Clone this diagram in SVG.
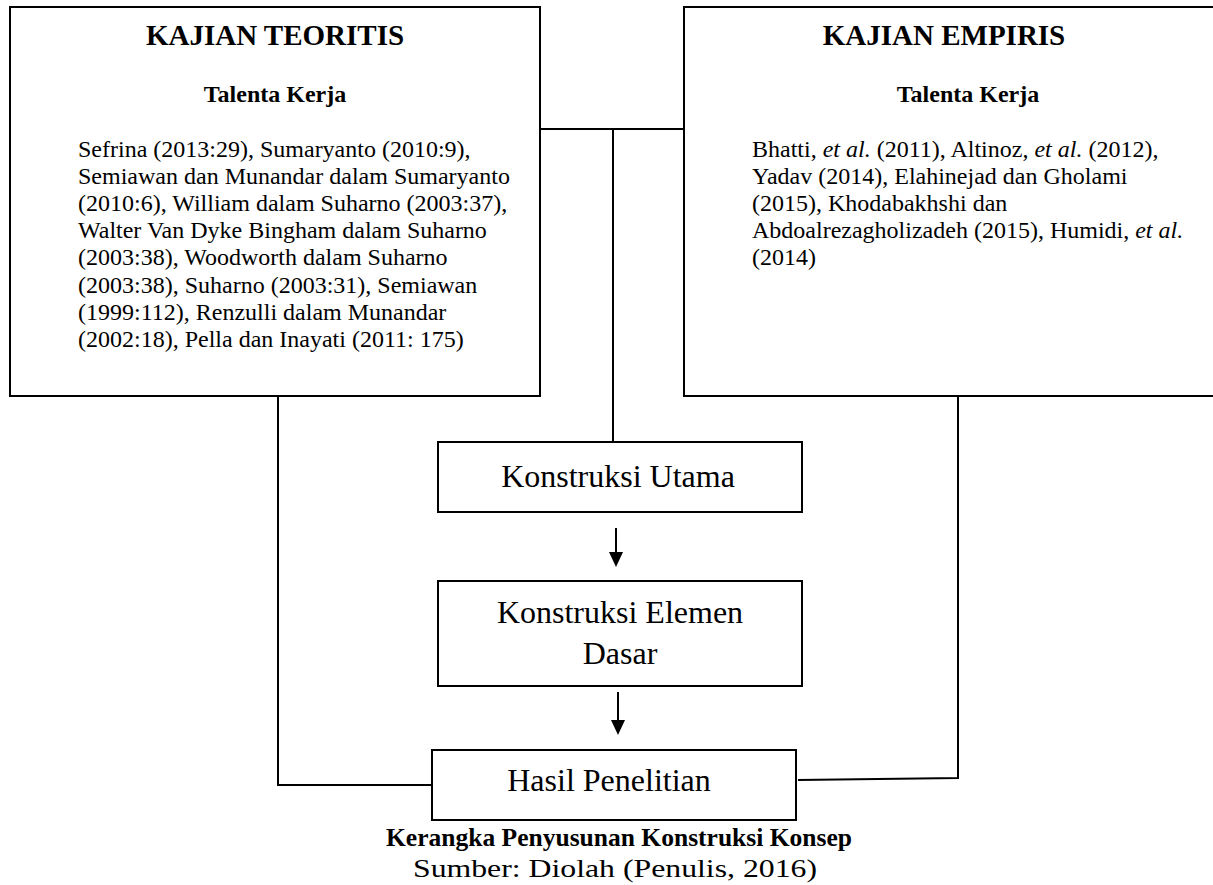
<svg xmlns="http://www.w3.org/2000/svg" width="1213" height="885" viewBox="0 0 1213 885">
<style>
.box{fill:#fff;stroke:#000;stroke-width:2}
.ln{fill:none;stroke:#000;stroke-width:2}
.t{font-family:"Liberation Serif","Times New Roman",serif;fill:#000}
.h{font-size:29px;font-weight:bold;text-anchor:middle}
.s{font-size:24px;font-weight:bold;text-anchor:middle}
.b{font-size:24px}
.m{font-size:32px;text-anchor:middle}
.c{font-size:26px;text-anchor:middle}
</style>
<g id="connectors">
<path class="ln" d="M540 129 H684"/>
<path class="ln" d="M613 129 V442"/>
<path class="ln" d="M278 396 V785 H434"/>
<path class="ln" d="M958 396 V778 L798 780"/>
<line x1="616" y1="528" x2="616" y2="553" stroke="#000" stroke-width="2"/>
<path d="M609 552 L623 552 L616 567 Z" fill="#000"/>
<line x1="618" y1="692" x2="618" y2="721" stroke="#000" stroke-width="2"/>
<path d="M611 720 L625 720 L618 735 Z" fill="#000"/>
</g>
<g id="kajian-teoritis">
<rect class="box" x="10" y="7" width="530" height="389"/>
<text class="t h" x="275" y="45">KAJIAN TEORITIS</text>
<text class="t s" x="275" y="102">Talenta Kerja</text>
<text class="t b" x="78" y="157">Sefrina (2013:29), Sumaryanto (2010:9),</text>
<text class="t b" x="78" y="184">Semiawan dan Munandar dalam Sumaryanto</text>
<text class="t b" x="78" y="211">(2010:6), William dalam Suharno (2003:37),</text>
<text class="t b" x="78" y="238">Walter Van Dyke Bingham dalam Suharno</text>
<text class="t b" x="78" y="265">(2003:38), Woodworth dalam Suharno</text>
<text class="t b" x="78" y="293">(2003:38), Suharno (2003:31), Semiawan</text>
<text class="t b" x="78" y="320">(1999:112), Renzulli dalam Munandar</text>
<text class="t b" x="78" y="347">(2002:18), Pella dan Inayati (2011: 175)</text>
</g>
<g id="kajian-empiris">
<rect class="box" x="684" y="7" width="540" height="389"/>
<text class="t h" x="944" y="45">KAJIAN EMPIRIS</text>
<text class="t s" x="968" y="102">Talenta Kerja</text>
<text class="t b" x="752" y="157">Bhatti, <tspan font-style="italic">et al.</tspan> (2011), Altinoz, <tspan font-style="italic">et al.</tspan> (2012),</text>
<text class="t b" x="752" y="184">Yadav (2014), Elahinejad dan Gholami</text>
<text class="t b" x="752" y="211">(2015), Khodabakhshi dan</text>
<text class="t b" x="752" y="238">Abdoalrezagholizadeh (2015), Humidi, <tspan font-style="italic">et al.</tspan></text>
<text class="t b" x="752" y="265">(2014)</text>
</g>
<g id="konstruksi-utama">
<rect class="box" x="438" y="442" width="364" height="70"/>
<text class="t m" x="618" y="487">Konstruksi Utama</text>
</g>
<g id="konstruksi-elemen">
<rect class="box" x="438" y="581" width="364" height="105"/>
<text class="t m" x="620" y="623">Konstruksi Elemen</text>
<text class="t m" x="620" y="664">Dasar</text>
</g>
<g id="hasil-penelitian">
<rect class="box" x="432" y="750" width="364" height="70"/>
<text class="t m" x="609" y="791">Hasil Penelitian</text>
</g>
<g id="caption">
<text class="t c" x="619" y="846" font-weight="bold" textLength="466" lengthAdjust="spacingAndGlyphs">Kerangka Penyusunan Konstruksi Konsep</text>
<text class="t c" x="615" y="877" textLength="404" lengthAdjust="spacingAndGlyphs">Sumber: Diolah (Penulis, 2016)</text>
</g>
</svg>
